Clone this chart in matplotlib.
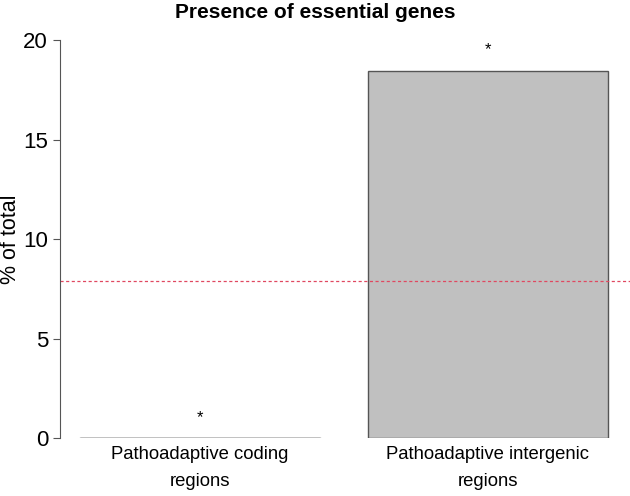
import matplotlib
matplotlib.use("Agg")
import matplotlib.pyplot as plt

categories = ["Pathoadaptive coding\nregions", "Pathoadaptive intergenic\nregions"]
values = [0.0, 18.45]
star_heights = [1.0, 19.5]
baseline = 7.9
yticks = [0, 5, 10, 15, 20]

plt.rcParams["font.family"] = ["Liberation Sans", "DejaVu Sans"]

fig = plt.figure(figsize=(6.3, 4.96), dpi=100)
ax = fig.add_axes([0.095, 0.117, 0.905, 0.802])

x = list(range(len(categories)))
ax.bar(x, values, width=0.833, color="#c0c0c0", edgecolor="#555555", linewidth=1.0)
ax.axhline(0, xmin=(-0.4165 + 0.486) / 1.979, xmax=(0.4165 + 0.486) / 1.979,
           color="#555555", linewidth=1.0)
for xi, h in zip(x, star_heights):
    ax.text(xi, h, "*", ha="center", va="center", fontsize=12)
ax.axhline(baseline, color="#e04860", linestyle="--", linewidth=0.9, dashes=(2.5, 2))

ax.set_xlim(-0.486, 1.493)
ax.set_ylim(0, 20)
ax.set_yticks(yticks)
ax.tick_params(axis="y", labelsize=16, length=5, color="#555555", direction="out")
ax.set_xticks(x)
ax.set_xticklabels(categories, fontsize=13.3, linespacing=1.75)
ax.tick_params(axis="x", length=0, pad=6)
for side in ["top", "right", "bottom"]:
    ax.spines[side].set_visible(False)
ax.spines["left"].set_color("#555555")
ax.set_ylabel("% of total", fontsize=15.5)
ax.yaxis.set_label_coords(-0.068, 0.5)
fig.suptitle("Presence of essential genes", x=0.5, y=1 - 12 / 496, va="center",
             fontsize=15, fontweight="bold")

fig.savefig("out.png", dpi=100)
